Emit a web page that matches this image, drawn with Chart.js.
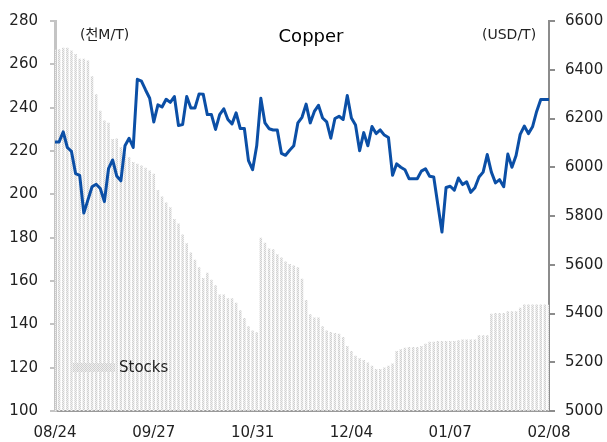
<!DOCTYPE html>
<html>
<head>
<meta charset="utf-8">
<script src="https://cdn.jsdelivr.net/npm/chart.js@4.4.1/dist/chart.umd.min.js"></script>
<style>
  html, body { margin: 0; padding: 0; background: #fff; }
  #chart { display: block; }
</style>
</head>
<body>
<canvas id="chart" width="607" height="442"></canvas>
<script>
// LME trading days, 2018-08-24 .. 2019-02-08
const dates = [
  '08/24','08/27','08/28','08/29','08/30','08/31',
  '09/03','09/04','09/05','09/06','09/07','09/10','09/11','09/12','09/13','09/14',
  '09/17','09/18','09/19','09/20','09/21','09/24','09/25','09/26','09/27','09/28',
  '10/01','10/02','10/03','10/04','10/05','10/08','10/09','10/10','10/11','10/12',
  '10/15','10/16','10/17','10/18','10/19','10/22','10/23','10/24','10/25','10/26',
  '10/29','10/30','10/31',
  '11/01','11/02','11/05','11/06','11/07','11/08','11/09','11/12','11/13','11/14','11/15','11/16',
  '11/19','11/20','11/21','11/22','11/23','11/26','11/27','11/28','11/29','11/30',
  '12/03','12/04','12/05','12/06','12/07','12/10','12/11','12/12','12/13','12/14',
  '12/17','12/18','12/19','12/20','12/21','12/24','12/25','12/26','12/27','12/28','12/31',
  '01/01','01/02','01/03','01/04','01/07','01/08','01/09','01/10','01/11',
  '01/14','01/15','01/16','01/17','01/18','01/21','01/22','01/23','01/24','01/25',
  '01/28','01/29','01/30','01/31',
  '02/01','02/04','02/05','02/06','02/07','02/08'
];
const tickLabels = ['08/24', '09/27', '10/31', '12/04', '01/07', '02/08'];

// stocks, thousand tonnes (left axis)
const stocks = [
  267, 267, 267.7, 267.7, 266.4, 264.8, 262.6, 262.6, 261.8, 254.5,
  246.2, 238.6, 234.1, 233, 225.5, 225.8, 221.7, 219, 217.1, 214.9,
  214.1, 213.3, 212.3, 211, 209.5, 202, 199, 196.2, 194, 188.6,
  186.5, 181.5, 177.4, 173.2, 169.8, 166.4, 161.4, 163.8, 160.6, 158,
  153.8, 153.8, 152, 152, 150, 146.5, 142.9, 139.1, 137.1, 136.4,
  180, 177.7, 175, 174.7, 172.4, 170.9, 169, 167.9, 167.1, 166.4,
  161, 151.2, 144.7, 143.2, 143.2, 139.1, 137.1, 136.5, 136, 135.6,
  134.1, 130, 127.7, 125.5, 124.4, 123.5, 122.4, 120.9, 119.4, 119.4,
  120.1, 120.9, 121.9, 127.7, 128.5, 129.2, 129.5, 129.5, 129.5, 130,
  131, 132, 132, 132.3, 132.3, 132.3, 132.3, 132.3, 132.7, 133,
  133, 133, 133, 135, 135, 135, 144.9, 145.2, 145.2, 145.2,
  146, 146, 146, 147.7, 149.2, 149.2, 149.2, 149.2, 149.2, 149.2, 149
];

// copper price, USD/T (right axis)
const copperPrice = [
  6104, 6104, 6145, 6081, 6065, 5974, 5967, 5812, 5866, 5920,
  5930, 5913, 5859, 5994, 6030, 5964, 5944, 6088, 6119, 6081,
  6361, 6353, 6317, 6283, 6186, 6256, 6247, 6279, 6266, 6290,
  6171, 6175, 6290, 6243, 6243, 6301, 6300, 6216, 6216, 6155,
  6216, 6240, 6196, 6178, 6223, 6159, 6159, 6027, 5990, 6088,
  6283, 6182, 6158, 6153, 6153, 6057, 6049, 6070, 6088, 6182,
  6205, 6259, 6182, 6229, 6254, 6202, 6186, 6119, 6200, 6209,
  6196, 6294, 6202, 6173, 6068, 6142, 6088, 6167, 6138, 6153,
  6132, 6122, 5967, 6014, 6000, 5990, 5953, 5953, 5953, 5984,
  5994, 5963, 5960, 5846, 5734, 5917, 5922, 5906, 5956, 5929,
  5940, 5897, 5916, 5960, 5980, 6052, 5980, 5936, 5949, 5920,
  6054, 6000, 6048, 6135, 6169, 6138, 6166, 6229, 6278, 6278, 6278
];

const FONT = '"DejaVu Sans", "Noto Sans CJK KR", sans-serif';
const canvas = document.getElementById('chart');
const ctx = canvas.getContext('2d');

// dotted light grey fill for the stock bars
function makeDots() {
  const c = document.createElement('canvas');
  c.width = 2; c.height = 2;
  const g = c.getContext('2d');
  g.fillStyle = '#efefef';
  g.fillRect(0, 0, 2, 2);
  g.fillStyle = '#d0d0d0';
  g.fillRect(0, 0, 1, 1);
  g.fillRect(1, 1, 1, 1);
  return ctx.createPattern(c, 'repeat');
}
const barFill = makeDots();

const textPlugin = {
  id: 'texts',
  afterDraw(chart) {
    const c = chart.ctx;
    c.save();
    c.textBaseline = 'middle';
    c.fillStyle = '#000';
    c.font = '18px ' + FONT;
    c.textAlign = 'center';
    c.fillText('Copper', 311, 37);
    c.font = '14px ' + FONT;
    c.textAlign = 'left';
    c.fillStyle = '#222';
    c.fillText('(천M/T)', 80, 35);
    c.fillText('(USD/T)', 482, 35);
    // legend
    c.fillStyle = barFill;
    c.fillRect(73, 363, 42, 9);
    c.fillStyle = '#222';
    c.font = '15px ' + FONT;
    c.fillText('Stocks', 119, 368);
    c.restore();
  }
};

new Chart(ctx, {
  type: 'bar',
  data: {
    labels: dates,
    datasets: [
      {
        type: 'line',
        label: 'Copper',
        data: copperPrice,
        yAxisID: 'y1',
        borderColor: '#0b4fa6',
        borderWidth: 3,
        pointRadius: 0,
        tension: 0,
        borderJoinStyle: 'round',
        order: 0
      },
      {
        type: 'bar',
        label: 'Stocks',
        data: stocks,
        yAxisID: 'y',
        backgroundColor: barFill,
        categoryPercentage: 0.8,
        barPercentage: 0.75,
        order: 1
      }
    ]
  },
  options: {
    responsive: false,
    animation: false,
    devicePixelRatio: 1,
    layout: { padding: { top: 15 } },
    plugins: { legend: { display: false }, tooltip: { enabled: false } },
    scales: {
      x: {
        offset: false,
        grid: { display: false },
        border: { color: '#9a9a9a', width: 2 },
        ticks: {
          autoSkip: false,
          maxRotation: 0,
          padding: 5,
          color: '#222',
          font: { family: FONT, size: 15 },
          callback: (v, i) => tickLabels.includes(dates[i]) ? dates[i] : ''
        },
        afterFit: (s) => { s.height = 31; }
      },
      y: {
        position: 'left',
        min: 100,
        max: 280,
        ticks: { stepSize: 20, padding: 12, color: '#222', font: { family: FONT, size: 15 } },
        grid: { drawOnChartArea: false, tickLength: 5, color: '#c4c4c4', lineWidth: 2 },
        border: { color: '#c4c4c4', width: 3 },
        afterFit: (s) => { s.width = 55; }
      },
      y1: {
        position: 'right',
        min: 5000,
        max: 6600,
        ticks: {
          stepSize: 200,
          padding: 10,
          color: '#222',
          font: { family: FONT, size: 15 },
          callback: (v) => String(v)
        },
        grid: { drawOnChartArea: false, tickLength: 6, color: '#8c8c8c', lineWidth: 2 },
        border: { color: '#8c8c8c', width: 2 },
        afterFit: (s) => { s.width = 58; }
      }
    }
  },
  plugins: [textPlugin]
});
</script>
</body>
</html>
